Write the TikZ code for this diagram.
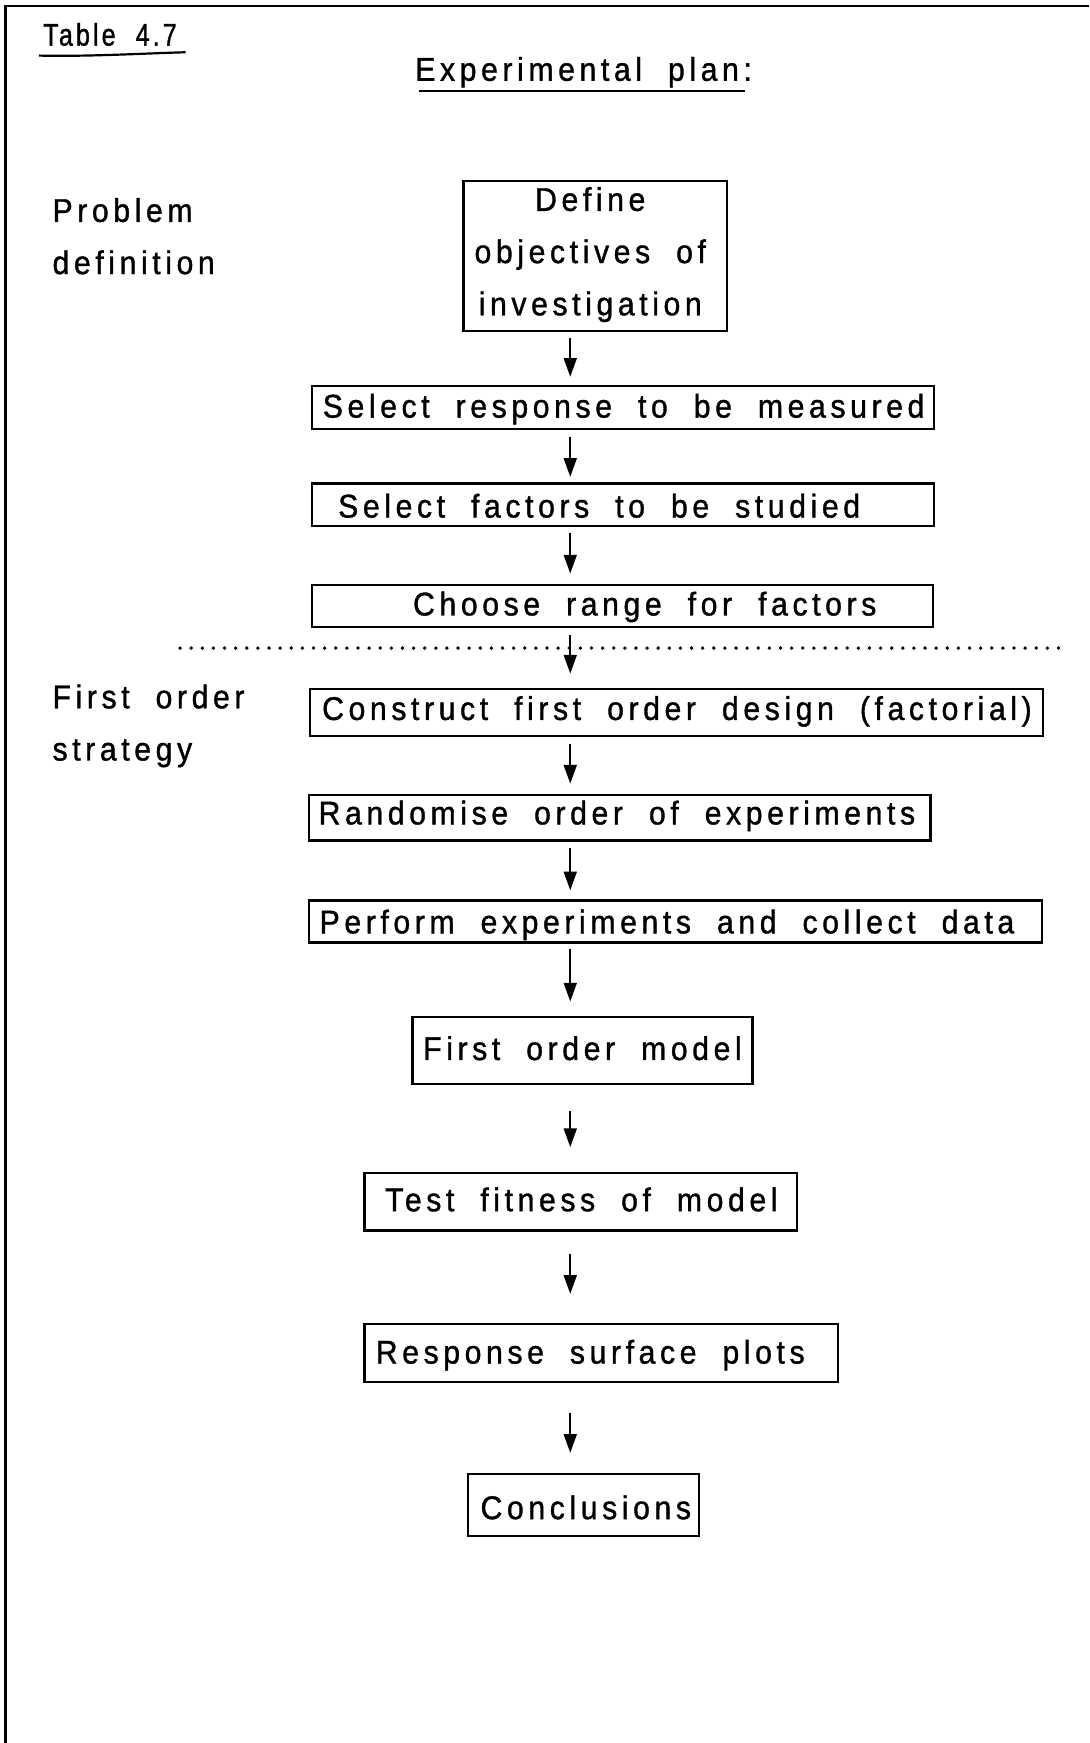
\documentclass[tikz,border=0pt]{standalone}
\usepackage{fontspec}
\setmainfont{Liberation Sans}[FakeStretch=0.92, LetterSpace=14, WordSpace=2, FakeBold=1.1, Ligatures=NoCommon]
\newfontfamily\headfont{Liberation Sans}[FakeStretch=0.8, LetterSpace=10, WordSpace=2, FakeBold=1.1, Ligatures=NoCommon]
\usetikzlibrary{arrows.meta}

\begin{document}
\begin{tikzpicture}[x=0.025cm, y=0.025cm,
  flowbox/.style={draw, line width=1.5pt, inner sep=0pt},
  txt/.style={inner sep=0pt, font=\fontsize{21}{33.4}\selectfont, align=center},
  side/.style={inner sep=0pt, anchor=west, font=\fontsize{21}{33.4}\selectfont, align=left},
  arr/.style={line width=1.3pt, -{Triangle[length=0.42cm, width=0.29cm]}},
  rule/.style={line width=1.4pt}]

% page frame and canvas
\fill[white] (0,0) rectangle (980,-1568);
\useasboundingbox (0,0) rectangle (980,-1568);
\draw[line width=1.6pt] (980,-5.5) -- (5,-5.5) -- (5,-1568);

% headings
\node[inner sep=0pt, font=\headfont\fontsize{20}{24}\selectfont] (tab) at (99,-31) {Table 4.7};
\draw[rule] (35,-50) .. controls (80,-51) and (130,-48) .. (167,-47);
\node[txt] (head) at (525,-65) {Experimental plan:};
\draw[rule] (377,-82) -- (670,-82);

% stage labels
\node[side] (lab1) at (47,-212.5) {Problem\\definition};
\node[side] (lab2) at (47,-653) {First order\\strategy};

% separator between the two stages
\draw[line width=0.085cm, line cap=round, dash pattern=on 0pt off 0.25cm] (162,-583) -- (955,-583);

% boxes
\node[flowbox, minimum width=5.925cm,  minimum height=3.375cm] (b1)  at (535.5,-230.5) {};
\node[flowbox, minimum width=13.975cm, minimum height=0.975cm] (b2)  at (560.5,-366.5) {};
\node[flowbox, minimum width=13.975cm, minimum height=0.95cm]  (b3)  at (560.5,-454) {};
\node[flowbox, minimum width=13.95cm,  minimum height=0.95cm]  (b4)  at (560,-545) {};
\node[flowbox, minimum width=16.475cm, minimum height=1.05cm]  (b5)  at (608.5,-641) {};
\node[flowbox, minimum width=13.975cm, minimum height=1.025cm] (b6)  at (557.5,-735.5) {};
\node[flowbox, minimum width=16.475cm, minimum height=0.95cm]  (b7)  at (607.5,-829) {};
\node[flowbox, minimum width=7.65cm,   minimum height=1.5cm]   (b8)  at (524,-945) {};
\node[flowbox, minimum width=9.725cm,  minimum height=1.3cm]   (b9)  at (522.5,-1081) {};
\node[flowbox, minimum width=10.65cm,  minimum height=1.3cm]   (b10) at (541,-1217) {};
\node[flowbox, minimum width=5.2cm,    minimum height=1.4cm]   (b11) at (525,-1354) {};

% box texts
\node[txt] (t1)  at (531,-229) {Define\\objectives of\\investigation};
\node[txt] (t2)  at (561,-368) {Select response to be measured};
\node[txt] (t3)  at (539,-455) {Select factors to be studied};
\node[txt] (t4)  at (580,-546) {Choose range for factors};
\node[txt] (t5)  at (609,-640) {Construct first order design (factorial)};
\node[txt] (t6)  at (555,-734) {Randomise order of experiments};
\node[txt] (t7)  at (600,-832) {Perform experiments and collect data};
\node[txt] (t8)  at (524,-943) {First order model};
\node[txt] (t9)  at (523,-1079) {Test fitness of model};
\node[txt] (t10) at (531,-1219) {Response surface plots};
\node[txt] (t11) at (527,-1356) {Conclusions};

% connectors
\coordinate (ax) at (513,0);
\draw[arr, shorten <=0.125cm, shorten >=0.175cm] (b1.south -| ax) -- (b2.north -| ax);
\draw[arr, shorten <=0.15cm,  shorten >=0.125cm] (b2.south -| ax) -- (b3.north -| ax);
\draw[arr, shorten <=0.125cm, shorten >=0.225cm] (b3.south -| ax) -- (b4.north -| ax);
\draw[arr, shorten <=0.15cm,  shorten >=0.325cm] (b4.south -| ax) -- (b5.north -| ax);
\draw[arr, shorten <=0.15cm,  shorten >=0.225cm] (b5.south -| ax) -- (b6.north -| ax);
\draw[arr, shorten <=0.15cm,  shorten >=0.2cm]   (b6.south -| ax) -- (b7.north -| ax);
\draw[arr, shorten <=0.125cm, shorten >=0.325cm] (b7.south -| ax) -- (b8.north -| ax);
\draw[arr, shorten <=0.575cm, shorten >=0.55cm]  (b8.south -| ax) -- (b9.north -| ax);
\draw[arr, shorten <=0.5cm,   shorten >=0.65cm]  (b9.south -| ax) -- (b10.north -| ax);
\draw[arr, shorten <=0.675cm, shorten >=0.45cm]  (b10.south -| ax) -- (b11.north -| ax);
\end{tikzpicture}
\end{document}
